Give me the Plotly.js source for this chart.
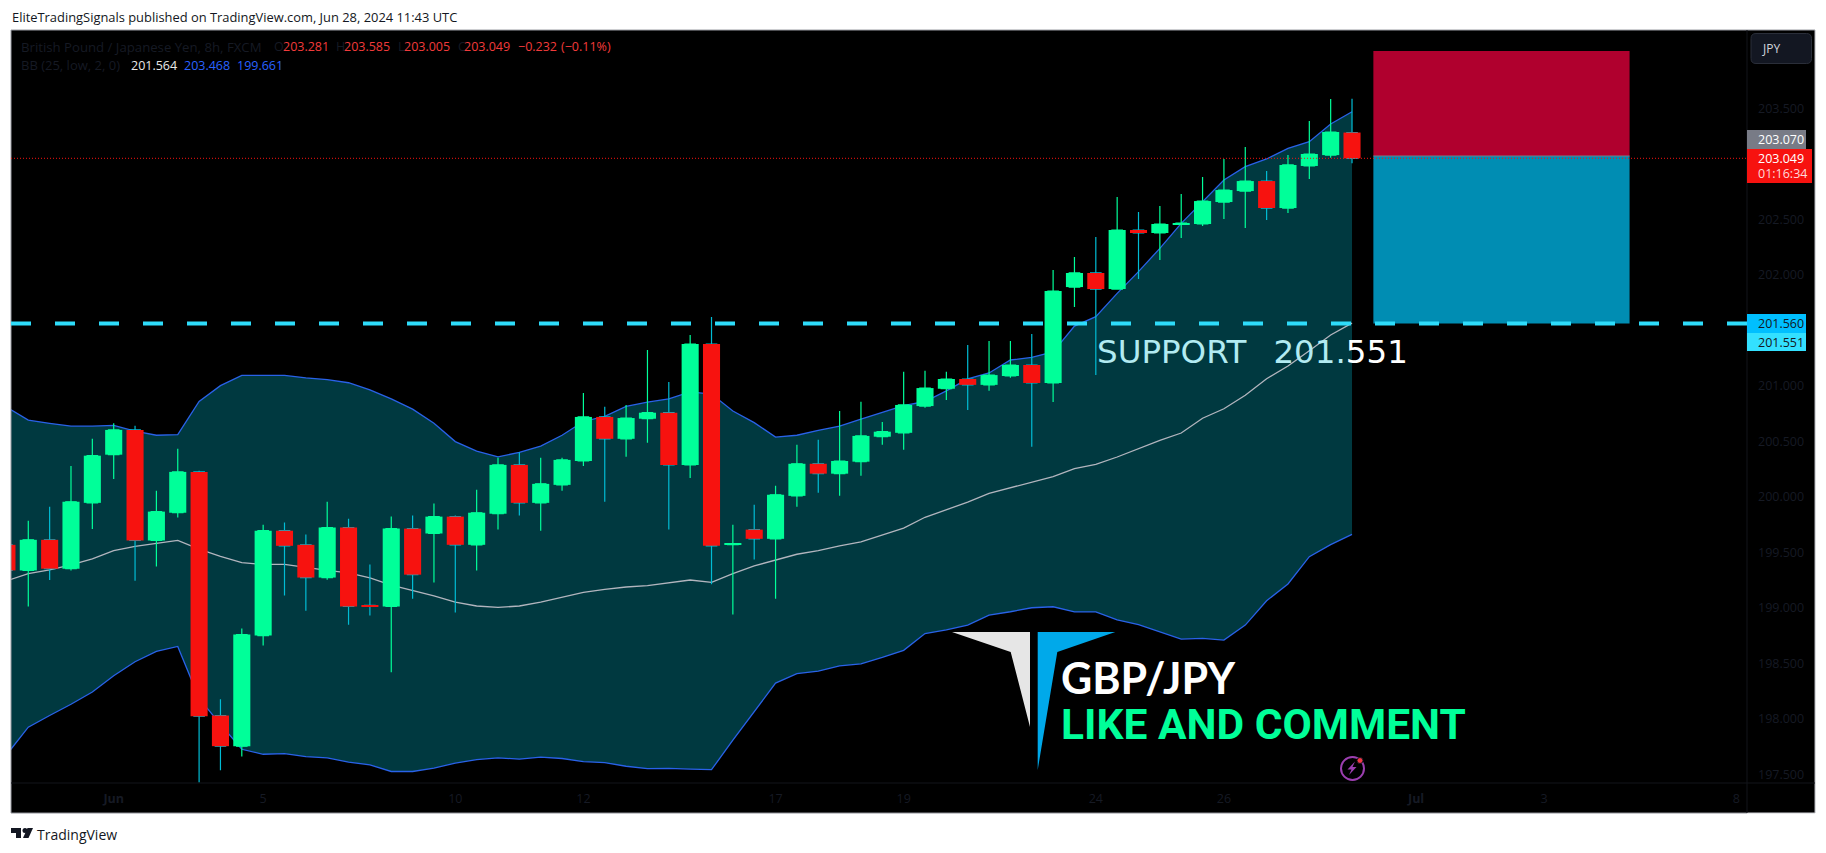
<!DOCTYPE html>
<html>
<head>
<meta charset="utf-8">
<script src="https://cdn.plot.ly/plotly-3.0.1.min.js"></script>
<style>html,body{margin:0;padding:0;background:#fff;overflow:hidden}#chart{width:1826px;height:853px}</style>
</head>
<body>
<div id="chart"></div>
<script>
// ---------- data ----------
const candleIndex = [-1,0,1,2,3,4,5,6,7,8,9,10,11,12,13,14,15,16,17,18,19,20,21,22,23,24,25,26,27,28,29,30,31,32,33,34,35,36,37,38,39,40,41,42,43,44,45,46,47,48,49,50,51,52,53,54,55,56,57,58,59,60,61,62];
const openPrice = [199.567,199.336,199.612,199.352,199.945,200.379,200.602,199.606,199.856,200.224,198.029,197.753,198.749,199.694,199.567,199.272,199.723,199.021,199.012,199.713,199.669,199.821,199.567,199.847,200.287,199.945,200.107,200.322,200.719,200.522,200.703,200.757,200.287,201.376,199.568,199.704,199.621,200.008,200.297,200.208,200.316,200.541,200.576,200.817,200.973,201.061,201.008,201.088,201.187,201.025,201.889,202.016,201.871,202.403,202.376,202.457,202.457,202.655,202.754,202.844,202.601,202.980,203.078,203.281];
const highPrice = [199.600,199.783,199.910,200.278,200.522,200.662,200.640,200.053,200.433,200.234,198.175,198.813,199.748,199.767,199.659,199.954,199.802,199.390,199.821,199.831,199.939,199.831,200.062,200.351,200.402,200.351,200.351,200.935,200.811,200.827,201.322,201.033,201.458,201.620,199.748,199.929,200.100,200.468,200.513,200.773,200.855,200.674,201.125,201.134,201.125,201.366,201.404,201.403,201.466,202.043,202.160,202.340,202.700,202.565,202.619,202.727,202.880,203.043,203.151,202.935,203.079,203.385,203.583,203.585];
const lowPrice = [199.300,199.012,199.250,199.336,199.710,200.161,199.244,199.371,199.812,197.426,197.537,197.661,198.660,199.111,198.974,199.253,198.847,198.930,198.419,199.082,199.228,198.958,199.336,199.704,199.831,199.694,200.053,200.278,199.954,200.360,200.487,199.704,200.170,199.212,198.939,199.434,199.082,199.910,200.037,200.008,200.189,200.468,200.424,200.801,200.871,200.782,200.954,201.073,200.450,200.853,201.709,201.097,201.871,201.962,202.133,202.331,202.439,202.502,202.421,202.493,202.556,202.862,203.054,203.005];
const closePrice = [199.336,199.612,199.352,199.954,200.370,200.602,199.606,199.866,200.224,198.023,197.753,198.759,199.694,199.558,199.272,199.723,199.012,199.012,199.713,199.298,199.821,199.567,199.856,200.287,199.945,200.116,200.332,200.719,200.522,200.709,200.757,200.287,201.376,199.558,199.577,199.621,200.018,200.297,200.208,200.322,200.548,200.586,200.827,200.979,201.061,201.008,201.096,201.187,201.025,201.853,202.016,201.871,202.403,202.376,202.457,202.466,202.664,202.763,202.844,202.601,202.989,203.088,203.286,203.049];
const bandUpper = [200.805,200.690,200.662,200.636,200.636,200.643,200.592,200.554,200.560,200.858,201.001,201.093,201.093,201.093,201.071,201.055,201.027,200.963,200.881,200.789,200.662,200.497,200.411,200.360,200.399,200.456,200.554,200.678,200.725,200.814,200.852,200.881,200.944,200.925,200.773,200.668,200.538,200.554,200.598,200.636,200.700,200.763,200.820,200.858,200.954,201.061,201.115,201.232,201.256,201.304,201.538,201.622,201.832,202.028,202.238,202.463,202.658,202.853,202.974,203.043,203.139,203.199,203.358,203.468];
const bandMiddle = [199.244,199.307,199.342,199.387,199.441,199.514,199.552,199.577,199.606,199.529,199.463,199.406,199.390,199.390,199.361,199.336,199.314,199.269,199.203,199.155,199.108,199.050,199.016,199.003,199.016,199.050,199.092,199.139,199.165,199.187,199.200,199.222,199.250,199.228,199.307,199.377,199.431,199.482,199.514,199.558,199.593,199.653,199.717,199.815,199.885,199.951,200.031,200.079,200.128,200.181,200.253,200.292,200.358,200.436,200.508,200.574,200.707,200.793,200.914,201.063,201.178,201.316,201.457,201.564];
const bandLower = [197.680,197.924,198.029,198.131,198.241,198.387,198.514,198.606,198.651,198.184,197.950,197.725,197.680,197.686,197.658,197.648,197.610,197.585,197.525,197.525,197.556,197.601,197.632,197.648,197.636,197.655,197.642,197.614,197.604,197.572,197.550,197.553,197.547,197.541,197.807,198.061,198.321,198.407,198.429,198.476,198.495,198.552,198.616,198.768,198.800,198.844,198.933,198.964,199.000,199.009,198.962,198.962,198.890,198.847,198.781,198.718,198.725,198.709,198.844,199.063,199.214,199.460,199.568,199.661];
const timeTickIndex = [4,11,20,26,35,41,50,56,65,71,80];
const timeTickLabels = ['<b>Jun</b>','5','10','12','17','19','24','26','<b>Jul</b>','3','8'];
const priceTicks = [197.5,198,198.5,199,199.5,200,200.5,201,202,202.5,203.5];
const lastPrice = 203.049;
const supportPrice = 201.56;
const positionTop = 204.016;
const positionEntry = 203.07;
const positionStart = 63;
const positionEnd = 75;
const headerText = 'EliteTradingSignals published on TradingView.com, Jun 28, 2024 11:43 UTC';

// ---------- styles ----------
const GREEN='#00FF99', RED='#F7120F', CYAN_WICK='#00BCD4', BLUE='#2962E8', MID='#B2B5BE', DARK='#161A24';
const W=1826,H=853,L=11,R=1747,T=30,B=783,FR=1815,FB=813;
const xRange=[-0.81,80.5], yRange=[197.4212,204.2049];
const ax=x=>(x-L)/(R-L), ay=y=>(B-y)/(B-T);
const poly=p=>'M'+p.map(q=>ax(q[0])+','+ay(q[1])).join('L')+'Z';
const rectP=(x0,y0,x1,y1,fill,extra)=>Object.assign({type:'rect',xref:'paper',yref:'paper',x0:ax(x0),x1:ax(x1),y0:ay(y0),y1:ay(y1),fillcolor:fill,line:{width:0}},extra||{});
const lineP=(x0,y0,x1,y1,c,w)=>({type:'line',xref:'paper',yref:'paper',x0:ax(x0),x1:ax(x1),y0:ay(y0),y1:ay(y1),line:{color:c,width:w||1}});
const polyS=(p,c)=>({type:'path',xref:'paper',yref:'paper',path:poly(p),fillcolor:c,line:{width:0}});
const txt=(x,y,text,color,size,opts)=>Object.assign({xref:'paper',yref:'paper',x:ax(x),y:ay(y),text:text,showarrow:false,xanchor:'left',yanchor:'middle',borderpad:0,font:{family:'"Open Sans",sans-serif',size:size||12,color:color}},opts||{});

const traces=[
 {type:'scatter',mode:'lines',x:candleIndex,y:bandUpper,line:{color:BLUE,width:1.3},hoverinfo:'skip',showlegend:false},
 {type:'scatter',mode:'lines',x:candleIndex,y:bandLower,line:{color:BLUE,width:1.3},fill:'tonexty',fillcolor:'rgba(0,188,212,0.3)',hoverinfo:'skip',showlegend:false},
 {type:'scatter',mode:'lines',x:candleIndex,y:bandMiddle,line:{color:MID,width:1.3},hoverinfo:'skip',showlegend:false},
 {type:'candlestick',xaxis:'x2',yaxis:'y2',x:candleIndex,open:openPrice,high:highPrice,low:lowPrice,close:closePrice,
  increasing:{line:{color:GREEN,width:1.2},fillcolor:GREEN},decreasing:{line:{color:CYAN_WICK,width:1.2},fillcolor:RED},whiskerwidth:0,hoverinfo:'skip',showlegend:false},
 {type:'bar',xaxis:'x3',yaxis:'y3',x:candleIndex,base:openPrice,y:closePrice.map((c,i)=>c-openPrice[i]),width:0.8,
  marker:{color:closePrice.map((c,i)=>c>=openPrice[i]?GREEN:RED),line:{width:0}},hoverinfo:'skip',showlegend:false}
];

const hidden=r=>({overlaying:r,visible:false,fixedrange:true});
const layout={
 width:W,height:H,margin:{l:L,r:W-R,t:T,b:H-B,pad:0},paper_bgcolor:'#ffffff',plot_bgcolor:'#000000',showlegend:false,barmode:'overlay',hovermode:false,
 xaxis:{range:xRange,tickmode:'array',tickvals:timeTickIndex,ticktext:timeTickLabels,tickfont:{family:'"Open Sans",sans-serif',size:12.5,color:DARK},ticks:'',ticklabelstandoff:6,showgrid:false,zeroline:false,showline:false,fixedrange:true},
 yaxis:{range:yRange,side:'right',tickmode:'array',tickvals:priceTicks,tickformat:'.3f',tickfont:{family:'"Open Sans",sans-serif',size:12.5,color:DARK},ticks:'',ticklabelstandoff:10,showgrid:false,zeroline:false,showline:false,fixedrange:true},
 xaxis2:Object.assign({range:xRange,rangeslider:{visible:false},anchor:'y2'},hidden('x')),
 yaxis2:Object.assign({range:yRange,anchor:'x2'},hidden('y')),
 xaxis3:Object.assign({range:xRange,anchor:'y3'},hidden('x')),
 yaxis3:Object.assign({range:yRange,anchor:'x3'},hidden('y')),
 shapes:[
  // chart frame
  rectP(L,T,FR,FB,'#000000',{layer:'below'}),
  lineP(L,T,FR,T,'#9A9CA3'),lineP(L,T,L,FB,'#9A9CA3'),lineP(L,FB,R,FB,'#8E9097'),lineP(R,FB,FR,FB,'#D0D1D6'),lineP(FR,T,FR,FB,'#B4B5BB'),
  lineP(R,T,R,FB,'#12141B'),lineP(L,B,FR,B,'#12141B'),
  // position tool
  {type:'rect',xref:'x',yref:'y',x0:positionStart,x1:positionEnd,y0:positionEntry,y1:positionTop,fillcolor:'#B0002E',line:{width:0}},
  {type:'rect',xref:'x',yref:'y',x0:positionStart,x1:positionEnd,y0:supportPrice,y1:positionEntry,fillcolor:'#008DB3',line:{width:0}},
  {type:'line',xref:'x',yref:'y',x0:positionStart,x1:positionEnd,y0:positionEntry,y1:positionEntry,line:{color:'#787B86',width:1}},
  // price lines
  {type:'line',xref:'paper',yref:'y',x0:0,x1:1,y0:lastPrice,y1:lastPrice,line:{color:RED,width:1,dash:'1px,2px'}},
  {type:'line',xref:'paper',yref:'y',x0:0,x1:1,y0:supportPrice,y1:supportPrice,line:{color:'#2EDCFA',width:4,dash:'20px,24px'}},
  // price labels
  rectP(1747,130,1806,149,'#787B86'),
  rectP(1747,149,1812,183,RED),
  rectP(1747,314,1806,333,'#00BFFF'),
  rectP(1747,333,1806,351,'#33E0FF'),
  {type:'path',xref:'paper',yref:'paper',path:(()=>{const a=1751,b=33.5,c=1811.5,d=63.5,r=5;return 'M'+ax(a+r)+','+ay(b)+'L'+ax(c-r)+','+ay(b)+'Q'+ax(c)+','+ay(b)+' '+ax(c)+','+ay(b+r)+'L'+ax(c)+','+ay(d-r)+'Q'+ax(c)+','+ay(d)+' '+ax(c-r)+','+ay(d)+'L'+ax(a+r)+','+ay(d)+'Q'+ax(a)+','+ay(d)+' '+ax(a)+','+ay(d-r)+'L'+ax(a)+','+ay(b+r)+'Q'+ax(a)+','+ay(b)+' '+ax(a+r)+','+ay(b)+'Z';})(),fillcolor:'#131722',line:{color:'#2A2E39',width:1}},
  // logo
  polyS([[952,632],[1030,632],[1030,727],[1010.7,652]],'#E6E6E6'),
  polyS([[1037.7,632],[1115.3,632],[1057.3,652],[1037.7,770]],'#00A9EA'),
  // lightning badge
  {type:'circle',xref:'paper',yref:'paper',x0:ax(1341),x1:ax(1364),y0:ay(757),y1:ay(780),line:{color:'#9C3FB0',width:2},fillcolor:'rgba(0,0,0,0)'},
  polyS([[1355,761.5],[1347.5,769.5],[1351.5,769.5],[1349,775],[1356.5,767],[1352.5,767]],'#9C3FB0'),
  {type:'circle',xref:'paper',yref:'paper',x0:ax(1357),x1:ax(1363),y0:ay(757.5),y1:ay(763.5),line:{color:'#131722',width:1},fillcolor:'#F23645'},
  // TradingView logo
  polyS([[11,828],[21,828],[21,838],[16,838],[16,833],[11,833]],'#131722'),
  {type:'circle',xref:'paper',yref:'paper',x0:ax(22.5),x1:ax(27.5),y0:ay(828),y1:ay(833),fillcolor:'#131722',line:{width:0}},
  polyS([[27.5,828],[33,828],[28.5,838],[23,838]],'#131722')
 ],
 annotations:[
  txt(11,16.5,headerText,'#131722',12.9),
  txt(20,46.7,'British Pound / Japanese Yen, 8h, FXCM',DARK,13.2),
  txt(272.5,46.7,'O',DARK,12.5), txt(281.5,46.7,'203.281','#F23B3B',12.5),
  txt(335,46.7,'H',DARK,12.5), txt(343,46.7,'203.585','#F23B3B',12.5),
  txt(397,46.7,'L',DARK,12.5), txt(403,46.7,'203.005','#F23B3B',12.5),
  txt(457,46.7,'C',DARK,12.5), txt(463,46.7,'203.049','#F23B3B',12.5),
  txt(517,46.7,'−0.232','#F23B3B',12.5), txt(560,46.7,'(−0.11%)','#F23B3B',12.5),
  txt(20,65.5,'BB (25, low, 2, 0)',DARK,13),
  txt(129.5,65.5,'201.564','#E8E8E8',12.5),
  txt(182.5,65.5,'203.468','#2962FF',12.5),
  txt(236,65.5,'199.661','#2962FF',12.5),
  txt(1757,139.5,'203.070','#FFFFFF',12.5),
  txt(1757,158.5,'203.049','#FFFFFF',12.5),
  txt(1757,173.5,'01:16:34','#FFD9D9',12.5),
  txt(1757,323.5,'201.560','#131722',12.5),
  txt(1757,342,'201.551','#131722',12.5),
  txt(1761,48.5,'JPY','#D1D4DC',12),
  txt(35.5,834,'TradingView','#131722',14),
  txt(1096,352,'SUPPORT \u00A0\u2009201.<span style="color:#FFFFFF">551</span>','#B2EBF2',32.5,{font:{family:'"DejaVu Sans",sans-serif',size:32.5,color:'#B2EBF2'}}),
  txt(1059.5,677.5,'GBP/JPY','#FFFFFF',43,{font:{family:'Lato,sans-serif',size:43,color:'#FFFFFF',weight:700}}),
  txt(1060,724,'LIKE AND COMMENT','#00FF99',42.5,{font:{family:'Roboto,sans-serif',size:42.5,color:'#00FF99',weight:700}})
 ]
};
Plotly.newPlot('chart',traces,layout,{displayModeBar:false,responsive:false});
</script>
</body>
</html>
